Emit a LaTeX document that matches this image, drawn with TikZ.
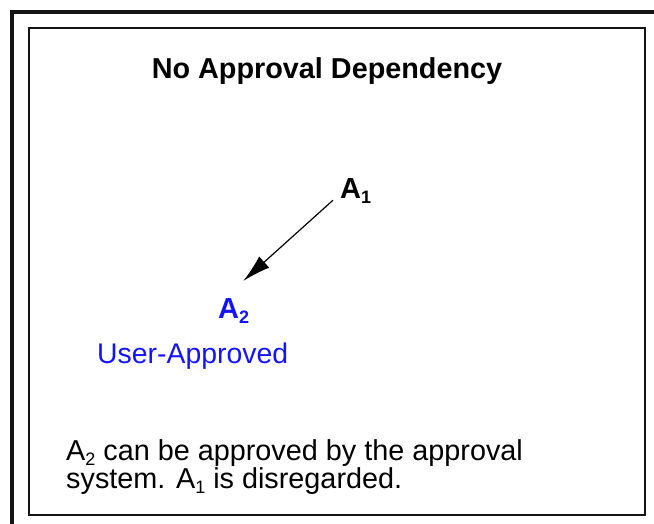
\documentclass[tikz,border=0pt]{standalone}
\usepackage{fontspec}
\setmainfont{Liberation Sans}
\usepackage{xcolor}
\usetikzlibrary{positioning,arrows.meta}
\definecolor{apblue}{RGB}{20,20,250}
\definecolor{frameblack}{RGB}{20,20,20}
\newcommand{\lowsub}[1]{\raisebox{-5pt}[0pt][0pt]{\fontsize{18}{18}\selectfont #1}}
\tikzset{
    heading/.style={
        inner sep=0pt,
        font=\fontsize{28.8}{32}\selectfont\bfseries
    },
    act/.style={
        inner sep=0pt,
        font=\fontsize{29}{30}\selectfont\bfseries
    },
    state/.style={
        inner sep=0pt,
        text=apblue,
        font=\fontsize{28.4}{30}\selectfont
    },
    note/.style={
        inner sep=0pt,
        align=left,
        font=\fontsize{28.8}{28.5}\selectfont
    },
    arr/.style={-{Latex[length=28pt,width=15pt]},line width=1.2pt}
}

\begin{document}
\begin{tikzpicture}[x=1pt,y=-1pt]
\useasboundingbox (0,0) rectangle (654,524);
% frames
\draw[line width=4pt,frameblack] (654,12) -- (12,12) -- (12,524);
\draw[line width=1.6pt,frameblack] (29,28) rectangle (645,515);

\node[heading,anchor=base] (title) at (327,79) {No Approval Dependency};

\node[act,anchor=base west] (a1) at (340,199) {A\lowsub{1}};
\node[act,anchor=base west,text=apblue] (a2) at (218,318) {A\lowsub{2}};
\node[state,anchor=base west] (a2state) at (97,363) {User-Approved};

\node[note,anchor=north west] (info) at (66,439)
    {A\lowsub{2} can be approved by the approval\\system. A\lowsub{1} is disregarded.};

\draw[arr] ([xshift=-7pt,yshift=-1pt]a1.south west) -- ([xshift=-6pt,yshift=17pt]a2.north east);
\end{tikzpicture}
\end{document}
